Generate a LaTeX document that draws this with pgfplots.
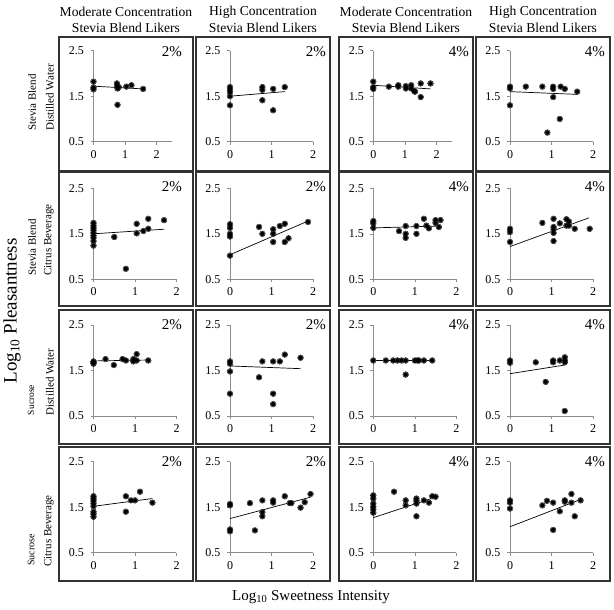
\documentclass[border=0pt]{standalone}
\usepackage{fontspec}
\setmainfont{Liberation Serif}
\usepackage{pgfplots}
\pgfplotsset{compat=1.18}

\pgfplotsset{panel/.style={
    scale only axis, height=91pt,
    xmin=0, ymin=0.5, ymax=2.5,
    axis x line=bottom, axis y line=left,
    axis line style={-, draw=black!45, line width=0.5pt},
    xtick={0,1,2}, ytick={0.5,1.5,2.5},
    tick align=outside, major tick length=3pt,
    tick style={draw=black!45, line width=0.5pt},
    /pgf/number format/assume math mode=true,
    tick label style={font=\fontsize{12}{12}\selectfont},
    xticklabel style={yshift=-2pt},
    yticklabel style={xshift=-3pt},
    clip=false,
}}

% #1 x of origin, #2 y of origin (image px, from top), #3 xmax, #4 width, #5 points, #6 trend line
\newcommand{\panel}[6]{%
  \begin{axis}[panel, at={({#1pt},{610pt-#2pt})}, anchor=south west, xmax=#3, width=#4pt]
    \addplot[only marks, mark=*, mark size=2.9pt,
      mark options={draw=none, fill=black!12}] coordinates {#5};
    \addplot[only marks, mark=*, mark size=2.1pt,
      mark options={draw=none, fill=black}] coordinates {#5};
    \addplot[black, line width=0.7pt] coordinates {#6};
  \end{axis}}

\begin{document}
\begin{tikzpicture}[x=1pt,y=1pt]
\useasboundingbox (0,0) rectangle (614,610);

% panel frames and percentages
\foreach \l in {59,196,339,476}{
  \foreach \t in {37,172,310,447}{
    \draw[black!80, line width=1.1pt] (\l,610-\t) rectangle (\l+134,610-\t-134);
  }
}
\foreach \t in {37,172,310,447}{
  \node[anchor=east, font=\fontsize{15}{15}\selectfont, inner sep=0pt] at (182,610-\t-15) {2\%};
  \node[anchor=east, font=\fontsize{15}{15}\selectfont, inner sep=0pt] at (326,610-\t-15) {2\%};
  \node[anchor=east, font=\fontsize{15}{15}\selectfont, inner sep=0pt] at (469,610-\t-15) {4\%};
  \node[anchor=east, font=\fontsize{15}{15}\selectfont, inner sep=0pt] at (605,610-\t-15) {4\%};
}

% column headers
\foreach \cx/\ttl in {126/Moderate Concentration,263/High Concentration,406/Moderate Concentration,543/High Concentration}{
  \node[font=\fontsize{13.6}{13.6}\selectfont, inner sep=0pt] at (\cx,610-12) {\ttl};
  \node[font=\fontsize{13.6}{13.6}\selectfont, inner sep=0pt] at (\cx,610-28) {Stevia Blend Likers};
}

% row labels
\begin{scope}[every node/.style={rotate=90, inner sep=0pt, font=\fontsize{11}{11}\selectfont}]
  \node at (32,610-102.5) {Stevia Blend};
  \node at (50,610-97.5) {Distilled Water};
  \node at (32,610-247.5) {Stevia Blend};
  \node at (49,610-240) {Citrus Beverage};
  \node[font=\fontsize{9.5}{9.5}\selectfont] at (31,610-400) {Sucrose};
  \node at (50,610-382) {Distilled Water};
  \node[font=\fontsize{10}{10}\selectfont] at (31,610-550) {Sucrose};
  \node at (49,610-531) {Citrus Beverage};
\end{scope}

\node[rotate=90, inner sep=0pt, font=\fontsize{19}{19}\selectfont] at (12,610-311) {Log\textsubscript{10} Pleasantness};
\node[inner sep=0pt, font=\fontsize{15}{15}\selectfont] at (311,610-597) {Log\textsubscript{10} Sweetness Intensity};

% Row 1: Stevia Blend, Distilled Water
\panel{93.5}{141.7}{2.5}{79}{(0,1.82)(0,1.69)(0,1.65)(0.74,1.78)(0.74,1.72)(0.76,1.67)(0.8,1.7)(0.76,1.31)(1.04,1.71)(1.2,1.74)(1.57,1.66)}{(0,1.72)(1.57,1.66)}
\panel{230}{141.7}{2}{83}{(0,1.70)(0,1.64)(0,1.59)(0,1.5)(0,1.30)(0.78,1.70)(0.78,1.64)(0.78,1.41)(1.04,1.66)(1.04,1.19)(1.32,1.70)}{(0,1.5)(1.32,1.6)}
\panel{373.3}{141.7}{2.5}{79}{(0,1.82)(0,1.70)(0,1.66)(0.49,1.71)(0.79,1.74)(0.79,1.71)(1.03,1.72)(1.03,1.67)(1.2,1.74)(1.2,1.67)(1.3,1.61)(1.32,1.6)(1.5,1.78)(1.5,1.48)(1.81,1.78)}{(0,1.74)(1.81,1.66)}
\panel{510}{141.7}{2}{83}{(0,1.71)(0,1.67)(0,1.30)(0.38,1.71)(0.78,1.71)(1.04,1.71)(1.04,1.66)(1.04,1.48)(1.22,1.71)(1.32,1.66)(0.9,0.70)(1.2,1.0)(1.62,1.6)}{(0,1.6)(1.62,1.54)}

% Row 2: Stevia Blend, Citrus Beverage
\panel{93.5}{279.3}{2}{83}{(0,1.74)(0,1.68)(0,1.63)(0,1.58)(0,1.52)(0,1.46)(0,1.41)(0,1.34)(0,1.24)(0.5,1.43)(0.78,0.73)(1.04,1.72)(1.04,1.51)(1.2,1.56)(1.32,1.83)(1.32,1.61)(1.7,1.8)}{(0,1.5)(1.7,1.6)}
\panel{230}{279.3}{2}{83}{(0,1.71)(0,1.63)(0,1.5)(0,1.44)(0,1.02)(0.7,1.65)(0.78,1.5)(1.04,1.6)(1.04,1.5)(1.04,1.32)(1.2,1.67)(1.32,1.72)(1.32,1.32)(1.41,1.4)(1.88,1.76)}{(0,1.04)(1.88,1.78)}
\panel{373.3}{279.3}{2}{83}{(0,1.78)(0,1.73)(0,1.63)(0.62,1.56)(0.78,1.67)(0.78,1.5)(0.78,1.41)(1.04,1.67)(1.04,1.5)(1.22,1.83)(1.28,1.68)(1.34,1.62)(1.5,1.8)(1.5,1.74)(1.58,1.65)(1.62,1.8)}{(0,1.63)(1.6,1.67)}
\panel{510}{279.3}{2}{83}{(0,1.61)(0,1.54)(0,1.32)(0.78,1.74)(1.05,1.83)(1.05,1.65)(1.05,1.6)(1.05,1.52)(1.05,1.34)(1.2,1.73)(1.36,1.82)(1.36,1.68)(1.42,1.77)(1.42,1.68)(1.56,1.61)(1.92,1.61)}{(0,1.22)(1.9,1.85)}

% Row 3: Sucrose, Distilled Water
\panel{93.5}{416}{2}{83}{(0,1.70)(0,1.67)(0,1.65)(0.29,1.75)(0.49,1.62)(0.7,1.75)(0.78,1.72)(0.96,1.70)(0.96,1.75)(1.04,1.86)(1.04,1.72)(1.32,1.72)}{(0,1.71)(1.32,1.73)}
\panel{230}{416}{2}{83}{(0,1.7)(0,1.65)(0,1.48)(0,0.99)(0.7,1.35)(0.78,1.70)(1.04,1.70)(1.04,0.99)(1.04,0.76)(1.2,1.70)(1.32,1.85)(1.7,1.78)}{(0,1.6)(1.7,1.54)}
\panel{373.3}{416}{2}{83}{(0,1.72)(0.3,1.72)(0.48,1.72)(0.58,1.72)(0.68,1.72)(0.78,1.72)(1.0,1.72)(1.06,1.72)(1.1,1.72)(1.22,1.72)(1.42,1.72)(0.78,1.41)}{(0,1.72)(1.42,1.72)}
\panel{510}{416}{2}{83}{(0,1.72)(0,1.67)(0.62,1.68)(0.86,1.25)(1.04,1.72)(1.04,1.68)(1.2,1.72)(1.32,1.72)(1.32,1.79)(1.32,1.68)(1.32,0.61)}{(0,1.43)(1.32,1.62)}

% Row 4: Sucrose, Citrus Beverage
\panel{93.5}{552.7}{2}{83}{(0,1.74)(0,1.69)(0,1.64)(0,1.58)(0,1.52)(0,1.40)(0,1.35)(0,1.29)(0.78,1.74)(0.78,1.40)(0.9,1.65)(1.0,1.65)(1.12,1.84)(1.42,1.6)}{(0,1.52)(1.42,1.69)}
\panel{230}{552.7}{2}{83}{(0,1.57)(0,1.54)(0,1.01)(0,0.97)(0.48,1.59)(0.6,0.99)(0.78,1.65)(0.78,1.39)(0.78,1.30)(1.04,1.65)(1.04,1.6)(1.32,1.74)(1.44,1.59)(1.48,1.59)(1.7,1.49)(1.8,1.61)(1.94,1.79)}{(0,1.25)(1.94,1.72)}
\panel{373.3}{552.7}{2}{83}{(0,1.76)(0,1.69)(0,1.58)(0,1.51)(0,1.45)(0,1.38)(0.5,1.84)(0.78,1.65)(0.78,1.54)(1.04,1.69)(1.04,1.64)(1.04,1.58)(1.04,1.3)(1.22,1.65)(1.34,1.6)(1.42,1.74)(1.5,1.73)}{(0,1.27)(1.5,1.72)}
\panel{510}{552.7}{2}{83}{(0,1.65)(0,1.6)(0,1.47)(0.78,1.54)(0.89,1.64)(1.04,1.6)(1.04,1.0)(1.2,1.41)(1.32,1.65)(1.32,1.62)(1.48,1.79)(1.48,1.6)(1.56,1.3)(1.7,1.65)}{(0,1.07)(1.7,1.67)}
\end{tikzpicture}
\end{document}
